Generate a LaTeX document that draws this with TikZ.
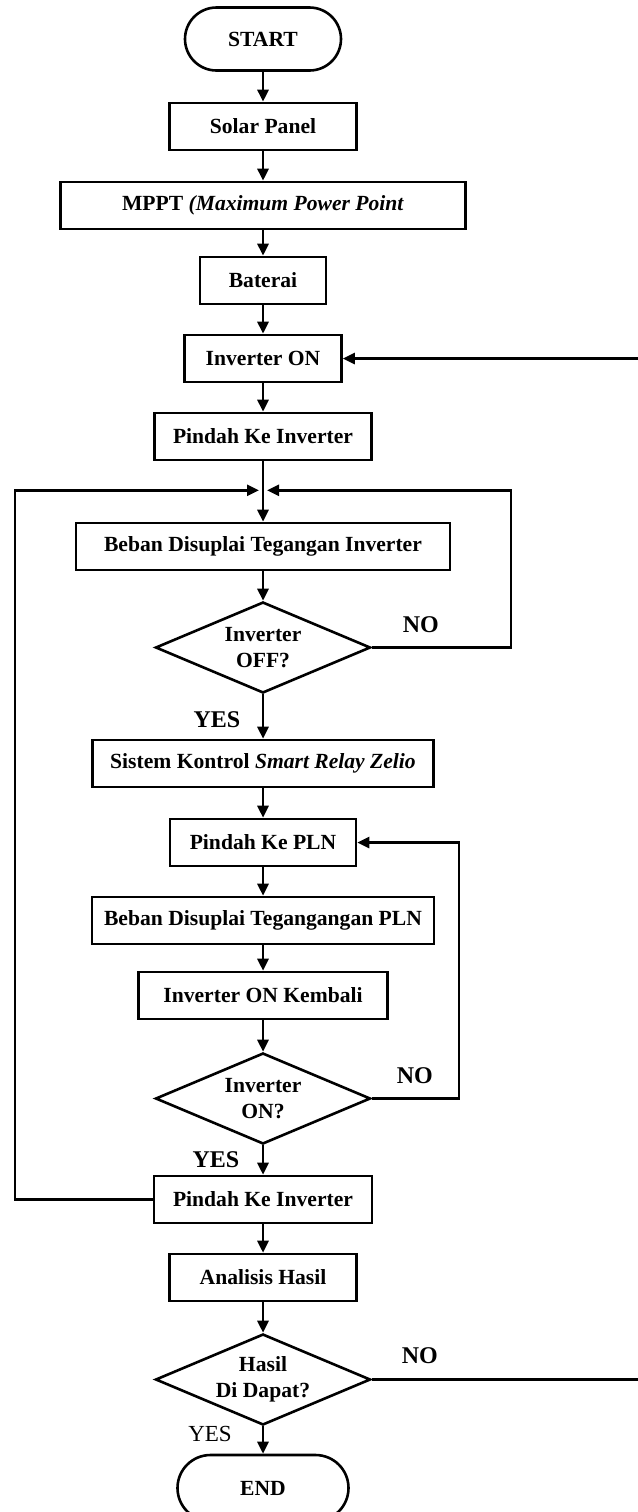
\documentclass[tikz,border=0pt]{standalone}
\usepackage{fontspec}
\setmainfont{Liberation Serif}
\usetikzlibrary{arrows.meta,positioning,shapes.geometric}

\begin{document}
\begin{tikzpicture}[x=0.5pt, y=-0.5pt,
    base/.style={draw=black, line width=1.3pt, align=center, inner sep=2pt, font=\fontsize{10.8}{13}\selectfont\bfseries},
    box/.style={base, rectangle, minimum height=23.5pt},
    term/.style={base, rectangle, rounded corners=15.75pt, minimum height=31.5pt},
    dec/.style={base, diamond, aspect=2.36, minimum width=107.5pt, minimum height=45.5pt, inner sep=0.5pt},
    lbl/.style={font=\fontsize{12}{14}\selectfont\bfseries},
    arrow/.style={-{Triangle[length=6pt, width=5.5pt]}, line width=1.3pt},
    line/.style={line width=1.3pt}
  ]
    \clip (0,0) rectangle (638,1512);
    \node[term, minimum width=78pt] (start) at (263,39) {START};
    \node[box, minimum width=93.5pt, below=14.95pt of start] (solar) {Solar Panel};
    \node[box, minimum width=202.5pt, below=14.7pt of solar] (mppt) {MPPT \textit{(Maximum Power Point}};
    \node[box, minimum width=63pt, below=12.7pt of mppt] (baterai) {Baterai};
    \node[box, minimum width=78.5pt, below=14.2pt of baterai] (invon) {Inverter ON};
    \node[box, minimum width=108.5pt, below=14.2pt of invon] (pindahA) {Pindah Ke Inverter};
    \node[box, minimum width=187pt, below=30.2pt of pindahA] (bebanA) {Beban Disuplai Tegangan Inverter};
    \node[dec, below=14.7pt of bebanA] (decA) {Inverter\\OFF?};
    \node[box, minimum width=170.5pt, below=22.2pt of decA] (zelio) {Sistem Kontrol \textit{Smart Relay Zelio}};
    \node[box, minimum width=93pt, below=14.7pt of zelio] (pln) {Pindah Ke PLN};
    \node[box, minimum width=171pt, below=14.2pt of pln] (bebanB) {Beban Disuplai Tegangangan PLN};
    \node[box, minimum width=124.5pt, below=12.7pt of bebanB] (kembali) {Inverter ON Kembali};
    \node[dec, below=15.7pt of kembali] (decB) {Inverter\\ON?};
    \node[box, minimum width=109pt, below=14.7pt of decB] (pindahB) {Pindah Ke Inverter};
    \node[box, minimum width=93.5pt, below=14.2pt of pindahB] (analisis) {Analisis Hasil};
    \node[dec, below=15.2pt of analisis] (decC) {Hasil\\Di Dapat?};
    \node[term, minimum width=85.5pt, minimum height=33pt, rounded corners=16.5pt, below=13.7pt of decC] (end) {END};

    % labels
    \node[lbl] (noA) at ([shift={(24.5pt,11.25pt)}]decA.east) {NO};
    \node[lbl] (yesA) at ([shift={(-23pt,-12.5pt)}]decA.south) {YES};
    \node[lbl] (noB) at ([shift={(21.5pt,11.5pt)}]decB.east) {NO};
    \node[lbl] (yesB) at ([shift={(-23.5pt,-7pt)}]decB.south) {YES};
    \node[lbl] (noC) at ([shift={(24pt,12pt)}]decC.east) {NO};
    \node[lbl, font=\fontsize{11.5}{14}\selectfont] (yesC) at ([shift={(-26.5pt,-4pt)}]decC.south) {YES};

    \coordinate (join) at ([yshift=-14.5pt]pindahA.south);
    \coordinate (leftx) at (15,0);
    \coordinate (rightx) at (511,0);
    \coordinate (plnx) at (459,0);
    \coordinate (edge) at (640,0);

    \draw[arrow] (start) -- (solar);
    \draw[arrow] (solar) -- (mppt);
    \draw[arrow] (mppt) -- (baterai);
    \draw[arrow] (baterai) -- (invon);
    \draw[arrow] (invon) -- (pindahA);
    \draw[arrow] (pindahA) -- (bebanA);
    \draw[arrow] (bebanA) -- (decA);
    \draw[arrow] (decA) -- (zelio);
    \draw[arrow] (zelio) -- (pln);
    \draw[arrow] (pln) -- (bebanB);
    \draw[arrow] (bebanB) -- (kembali);
    \draw[arrow] (kembali) -- (decB);
    \draw[arrow] (decB) -- (pindahB);
    \draw[arrow] (pindahB) -- (analisis);
    \draw[arrow] (analisis) -- (decC);
    \draw[arrow] (decC) -- (end);

    % loops
    \draw[arrow] (decA.east) -- (decA.east -| rightx) |- ([xshift=2pt]join);
    \draw[arrow] (pindahB.west) -- (pindahB.west -| leftx) |- ([xshift=-2pt]join);
    \draw[arrow] (decB.east) -- (decB.east -| plnx) |- (pln.east);
    \draw[line] (decC.east) -- (decC.east -| edge);
    \draw[arrow] (invon.east -| edge) -- (invon.east);
  \end{tikzpicture}
\end{document}
